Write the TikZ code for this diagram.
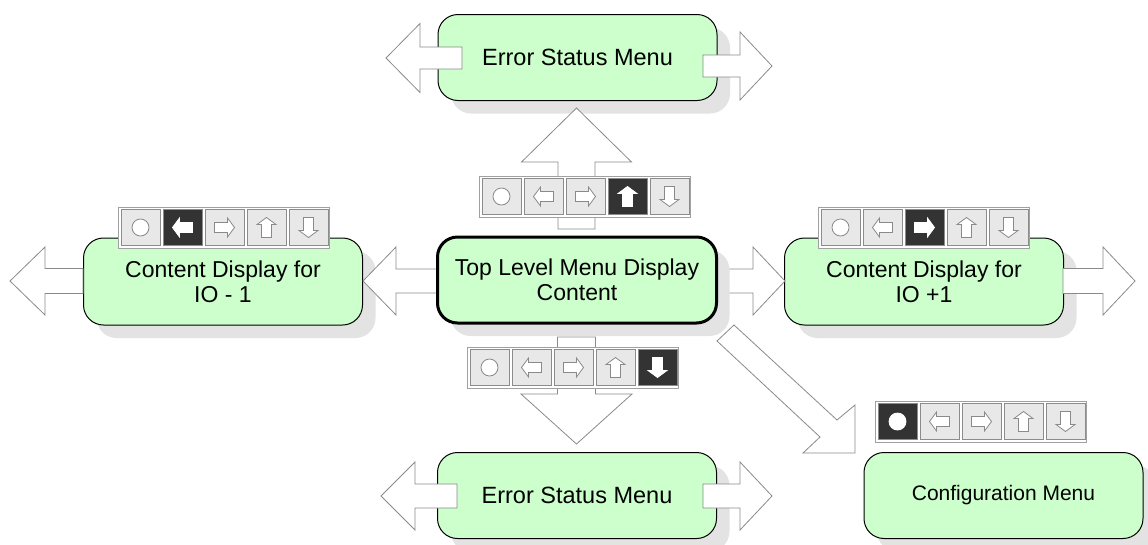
\documentclass[tikz,border=0pt]{standalone}
\usepackage{fontspec}
\setmainfont{Liberation Sans}
\usetikzlibrary{shadows}
\definecolor{boxgreen}{HTML}{CCFFCC}
\definecolor{shadowgray}{HTML}{E3E3E3}
\definecolor{arrowgray}{HTML}{8A8A8A}
\definecolor{cellgray}{HTML}{E8E8E8}
\definecolor{celledge}{HTML}{8C8C8C}
\definecolor{frameedge}{HTML}{A0A0A0}
\definecolor{darkcell}{HTML}{333333}
\tikzset{
  menubox/.style={draw=black, line width=1pt, fill=boxgreen, rounded corners=20pt,
    inner sep=0pt, align=center, font=\fontsize{23}{25}\selectfont,
    minimum width=279pt, minimum height=86pt,
    general shadow={fill=shadowgray, shadow xshift=13pt, shadow yshift=-13pt}},
  mainbox/.style={menubox, line width=3pt},
  blockarrow/.style={draw=arrowgray, fill=white, line width=0.8pt, line join=miter},
  barframe/.style={draw=frameedge, fill=white, line width=0.8pt},
  cell/.style={draw=celledge, fill=cellgray, line width=0.8pt},
  activecell/.style={draw=celledge, fill=darkcell, line width=0.8pt},
  icon/.style={draw=arrowgray, fill=white, line width=0.8pt},
  activeicon/.style={draw=white, fill=white, line width=0.8pt}
}
% horizontal block arrow: tail x, head-base x, tip x, centre y, shaft half, head half
\newcommand\harrow[6]{%
  \draw[blockarrow] (#1,#4-#5) -- (#2,#4-#5) -- (#2,#4-#6) -- (#3,#4)
    -- (#2,#4+#6) -- (#2,#4+#5) -- (#1,#4+#5) -- cycle;}
% vertical block arrow: tail y, head-base y, tip y, centre x, shaft half, head half
\newcommand\varrow[6]{%
  \draw[blockarrow] (#4-#5,#1) -- (#4-#5,#2) -- (#4-#6,#2) -- (#4,#3)
    -- (#4+#6,#2) -- (#4+#5,#2) -- (#4+#5,#1) -- cycle;}
% button bar: left x, top y, active index
\newcommand\buttonbar[3]{%
  \draw[barframe] (#1,#2) rectangle ++(211,41);
  \foreach \k in {1,...,5}{%
    \pgfmathsetmacro\cx{#1+3+(\k-1)*42}%
    \ifnum\k=#3\relax
      \def\cst{activecell}\def\ist{activeicon}%
    \else
      \def\cst{cell}\def\ist{icon}%
    \fi
    \draw[\cst] (\cx,#2+2.5) rectangle ++(39,36);
    \begin{scope}[shift={(\cx+19.5,#2+20.5)}]
      \ifcase\k\or
        \draw[\ist] (0,0) circle (8.5);
      \or
        \draw[\ist] (10,-5) -- (-3,-5) -- (-3,-9.5) -- (-10,0) -- (-3,9.5) -- (-3,5) -- (10,5) -- cycle;
      \or
        \draw[\ist] (-10,-5) -- (3,-5) -- (3,-9.5) -- (10,0) -- (3,9.5) -- (3,5) -- (-10,5) -- cycle;
      \or
        \draw[\ist] (-5,10) -- (-5,-3) -- (-9.5,-3) -- (0,-10) -- (9.5,-3) -- (5,-3) -- (5,10) -- cycle;
      \or
        \draw[\ist] (-5,-10) -- (-5,3) -- (-9.5,3) -- (0,10) -- (9.5,3) -- (5,3) -- (5,-10) -- cycle;
      \fi
    \end{scope}
  }%
}
\begin{document}
\begin{tikzpicture}[x=1pt,y=-1pt]
\useasboundingbox (0,0) rectangle (1148,544);
% boxes
\node[menubox, font=\fontsize{23.5}{25}\selectfont] (errtop) at (577.5,57.5) {Error Status Menu};
\node[menubox, minimum height=87pt] (iominus) at (223,281.5) {Content Display for\\IO - 1};
\node[menubox, minimum height=87pt] (ioplus) at (924,281.5) {Content Display for\\IO +1};
\node[menubox, font=\fontsize{23.5}{25}\selectfont] (errbot) at (577,495.5) {Error Status Menu};
\node[menubox, font=\fontsize{21}{24}\selectfont] (config) at (1003.5,495.5) {Configuration Menu};
% arrows
\varrow{229}{162}{108}{576.5}{18.5}{55}
\varrow{337}{394}{444}{576.5}{19}{55.5}
\harrow{437}{396}{363}{281}{12}{34}
\harrow{717}{753}{785}{281}{12}{34}
\harrow{83}{45}{10}{281}{12.5}{34}
\harrow{1063}{1103}{1135}{281}{12.5}{34}
\draw[blockarrow] (734,325) -- (837,420) -- (855,405) -- (855,453) -- (803,453) -- (820,437) -- (717,341) -- cycle;
% main box
\node[mainbox] (top) at (577,280) {Top Level Menu Display\\Content};
% arrows over the error boxes
\harrow{462}{420}{386}{58}{11}{34.5}
\harrow{703}{740}{772}{66}{11}{34}
\harrow{457}{415}{381}{496}{12}{34}
\harrow{703}{740}{772}{496}{12}{34}
% button bars
\buttonbar{479}{176}{4}
\buttonbar{118}{207}{2}
\buttonbar{818}{207}{3}
\buttonbar{467}{347}{5}
\buttonbar{875}{401}{1}
\end{tikzpicture}
\end{document}
